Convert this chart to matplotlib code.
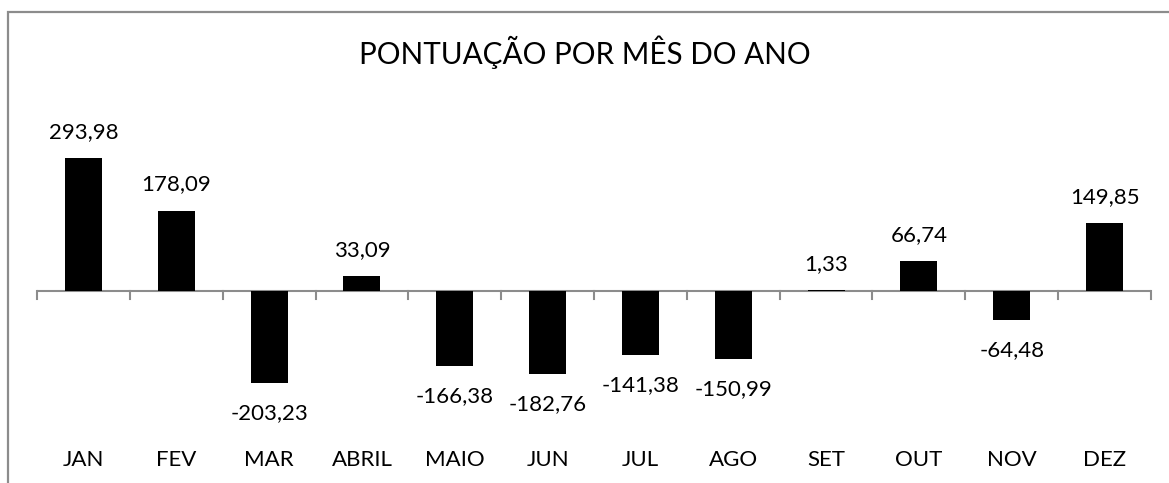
import matplotlib
matplotlib.use("Agg")
import matplotlib.pyplot as plt
from matplotlib.patches import Rectangle
import matplotlib.transforms as mtransforms

months = ["JAN", "FEV", "MAR", "ABRIL", "MAIO", "JUN", "JUL", "AGO", "SET", "OUT", "NOV", "DEZ"]
values = [293.98, 178.09, -203.23, 33.09, -166.38, -182.76, -141.38, -150.99, 1.33, 66.74, -64.48, 149.85]
title = "PONTUAÇÃO POR MÊS DO ANO"

W, H = 1169, 483
fig = plt.figure(figsize=(W / 100, H / 100), dpi=100)
plt.rcParams['font.family'] = ['Lato', 'DejaVu Sans']

# axes placement in pixels
x0, x1 = 37, 1151
zero_y = 291
scale = 0.452  # px per unit
ytop_px, ybot_px = 100, 420
ymax = (zero_y - ytop_px) / scale
ymin = -(ybot_px - zero_y) / scale
ax = fig.add_axes([x0 / W, 1 - ybot_px / H, (x1 - x0) / W, (ybot_px - ytop_px) / H])
ax.set_xlim(-0.5, len(months) - 0.5)
ax.set_ylim(ymin, ymax)
for s in ax.spines.values():
    s.set_visible(False)
ax.set_xticks([])
ax.set_yticks([])

xs = list(range(len(months)))
ax.bar(xs, values, width=0.4, color="black", zorder=3)
ax.axhline(0, color="#8c8c8c", lw=1.5, zorder=2)

# tick marks at category boundaries
tr = mtransforms.blended_transform_factory(ax.transData, fig.transFigure)
for b in [i - 0.5 for i in range(len(months) + 1)]:
    ax.plot([b, b], [1 - zero_y / H, 1 - (zero_y + 8) / H], transform=tr,
            color="#8c8c8c", lw=1.5, clip_on=False)

fs = 16
for x, v in zip(xs, values):
    lab = f"{v:.2f}".replace(".", ",")
    if v >= 0:
        ax.annotate(lab, (x, v), xytext=(0, 11.5), textcoords="offset points",
                    ha="center", va="bottom", fontsize=fs, color="black")
    else:
        ax.annotate(lab, (x, v), xytext=(0, -14.5), textcoords="offset points",
                    ha="center", va="top", fontsize=fs, color="black")
    ax.text(x, 1 - 460 / H, months[x], transform=tr, ha="center", va="center",
            fontsize=fs, color="black")

fig.text(0.5, 1 - 52 / H, title, ha="center", va="center", fontsize=21.3, color="black")

# outer border (only left and top visible in reference)
fig.patches.append(Rectangle((8 / W, -0.1), 1.2, 1 - 12 / H + 0.1, transform=fig.transFigure,
                             fill=False, edgecolor="#8c8c8c", lw=1.6))

fig.savefig("out.png", dpi=100)
